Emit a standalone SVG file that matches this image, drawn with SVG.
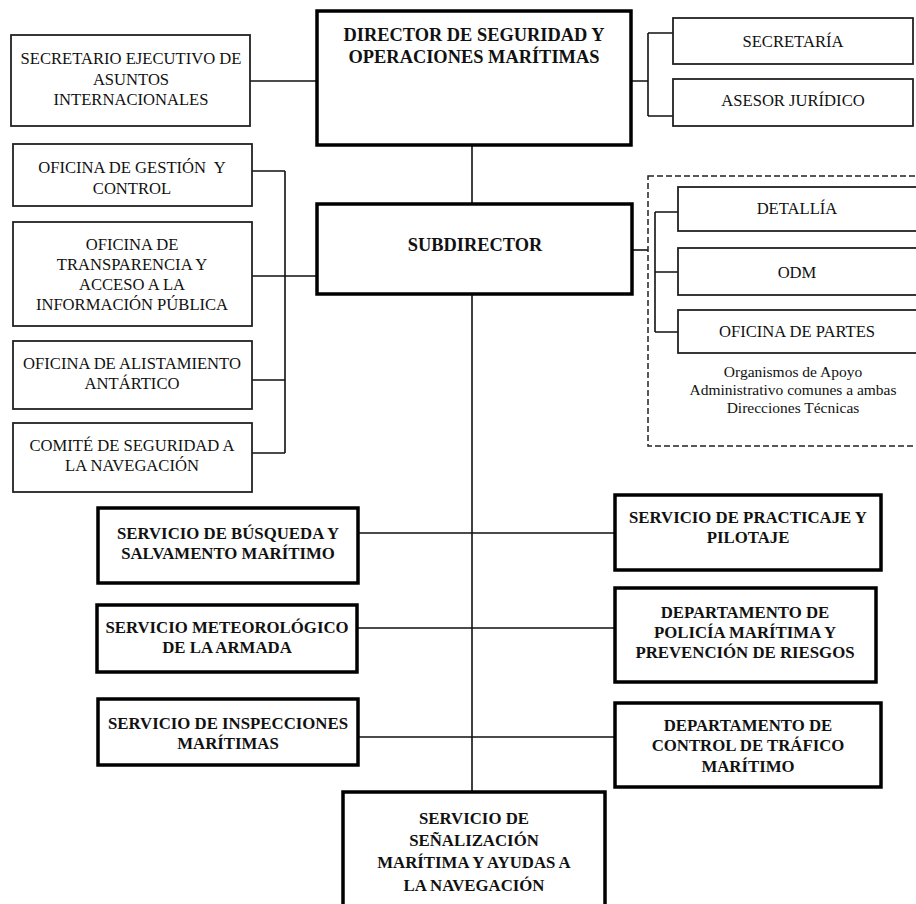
<svg xmlns="http://www.w3.org/2000/svg" width="916" height="904" viewBox="0 0 916 904">
<style>
  .thin{fill:#fff;stroke:#222;stroke-width:1.8}
  .thick{fill:#fff;stroke:#000;stroke-width:3.5}
  .t{font-family:"Liberation Serif","Times New Roman",serif;font-size:16.6px;fill:#111;text-anchor:middle}
  .b{font-family:"Liberation Serif","Times New Roman",serif;font-size:16.8px;font-weight:bold;fill:#111;text-anchor:middle}
  .bb{font-family:"Liberation Serif","Times New Roman",serif;font-size:18.4px;font-weight:bold;fill:#111;text-anchor:middle}
  .s{font-family:"Liberation Serif","Times New Roman",serif;font-size:15.5px;fill:#111;text-anchor:middle}
  .c{fill:none;stroke:#111;stroke-width:1.6}
</style>
<rect width="916" height="904" fill="#fff"/>
<g id="connectors">
  <path class="c" d="M250,81 H317"/>
  <path class="c" d="M631,81 H648 M648,33 V116 M648,33 H673 M648,116 H673"/>
  <path class="c" d="M472,145 V204"/>
  <path class="c" d="M472,294 V792"/>
  <path class="c" d="M252,171 H285 M285,171 V453 M252,276 H317 M252,380 H285 M252,453 H285"/>
  <path class="c" d="M632,250 H648"/>
  <path class="c" d="M655,212 V332 M655,212 H678 M655,272 H678 M655,332 H678"/>
  <path class="c" d="M358,533 H615 M357,628 H615 M358,737 H615"/>
</g>
<g id="apoyo-group">
  <rect x="648" y="176" width="290" height="270" fill="none" stroke="#222" stroke-width="1.5" stroke-dasharray="6,3"/>
  <text class="s" x="793" y="377">Organismos de Apoyo</text>
  <text class="s" x="793" y="395">Administrativo comunes a ambas</text>
  <text class="s" x="793" y="413">Direcciones Técnicas</text>
</g>
<g id="secretario">
  <rect class="thin" x="11" y="35" width="239" height="91"/>
  <text class="t" x="131" y="64">SECRETARIO EJECUTIVO DE</text>
  <text class="t" x="131" y="85">ASUNTOS</text>
  <text class="t" x="131" y="105">INTERNACIONALES</text>
</g>
<g id="director">
  <rect class="thick" x="317" y="11" width="314" height="134"/>
  <text class="bb" x="474" y="41">DIRECTOR DE SEGURIDAD Y</text>
  <text class="bb" x="474" y="63">OPERACIONES MARÍTIMAS</text>
</g>
<g id="secretaria">
  <rect class="thin" x="673" y="18" width="240" height="46"/>
  <text class="t" x="793" y="47">SECRETARÍA</text>
</g>
<g id="asesor">
  <rect class="thin" x="673" y="79" width="240" height="47"/>
  <text class="t" x="793" y="106">ASESOR JURÍDICO</text>
</g>
<g id="gestion">
  <rect class="thin" x="13" y="144" width="239" height="62"/>
  <text class="t" x="132" y="172.5" xml:space="preserve">OFICINA DE GESTIÓN  Y</text>
  <text class="t" x="132" y="193.5">CONTROL</text>
</g>
<g id="transparencia">
  <rect class="thin" x="13" y="222" width="239" height="104"/>
  <text class="t" x="132" y="249.5">OFICINA DE</text>
  <text class="t" x="132" y="269.5">TRANSPARENCIA Y</text>
  <text class="t" x="132" y="289.5">ACCESO A LA</text>
  <text class="t" x="132" y="309.5">INFORMACIÓN PÚBLICA</text>
</g>
<g id="alistamiento">
  <rect class="thin" x="13" y="341" width="239" height="68"/>
  <text class="t" x="132" y="368.5">OFICINA DE ALISTAMIENTO</text>
  <text class="t" x="132" y="388.5">ANTÁRTICO</text>
</g>
<g id="comite">
  <rect class="thin" x="13" y="423" width="239" height="69"/>
  <text class="t" x="132" y="450.5">COMITÉ DE SEGURIDAD A</text>
  <text class="t" x="132" y="470.5">LA NAVEGACIÓN</text>
</g>
<g id="subdirector">
  <rect class="thick" x="317" y="204" width="315" height="90"/>
  <text class="bb" x="475" y="251">SUBDIRECTOR</text>
</g>
<g id="detallia">
  <rect class="thin" x="678" y="187" width="250" height="44"/>
  <text class="t" x="797" y="213.5">DETALLÍA</text>
</g>
<g id="odm">
  <rect class="thin" x="678" y="248" width="250" height="47"/>
  <text class="t" x="797" y="277.5">ODM</text>
</g>
<g id="partes">
  <rect class="thin" x="678" y="310" width="250" height="43"/>
  <text class="t" x="797" y="336.5">OFICINA DE PARTES</text>
</g>
<g id="busqueda">
  <rect class="thick" x="98" y="508" width="260" height="75"/>
  <text class="b" x="228" y="539">SERVICIO DE BÚSQUEDA Y</text>
  <text class="b" x="228" y="559">SALVAMENTO MARÍTIMO</text>
</g>
<g id="meteorologico">
  <rect class="thick" x="97" y="605" width="260" height="67"/>
  <text class="b" x="227" y="633">SERVICIO METEOROLÓGICO</text>
  <text class="b" x="227" y="653">DE LA ARMADA</text>
</g>
<g id="inspecciones">
  <rect class="thick" x="98" y="699" width="260" height="66"/>
  <text class="b" x="228" y="729">SERVICIO DE INSPECCIONES</text>
  <text class="b" x="228" y="749">MARÍTIMAS</text>
</g>
<g id="practicaje">
  <rect class="thick" x="615" y="495" width="266" height="75"/>
  <text class="b" x="748" y="523">SERVICIO DE PRACTICAJE Y</text>
  <text class="b" x="748" y="543">PILOTAJE</text>
</g>
<g id="policia">
  <rect class="thick" x="615" y="588" width="261" height="94"/>
  <text class="b" x="745" y="618">DEPARTAMENTO DE</text>
  <text class="b" x="745" y="638">POLICÍA MARÍTIMA Y</text>
  <text class="b" x="745" y="658">PREVENCIÓN DE RIESGOS</text>
</g>
<g id="trafico">
  <rect class="thick" x="615" y="703" width="266" height="84"/>
  <text class="b" x="748" y="731">DEPARTAMENTO DE</text>
  <text class="b" x="748" y="751">CONTROL DE TRÁFICO</text>
  <text class="b" x="748" y="772">MARÍTIMO</text>
</g>
<g id="senalizacion">
  <rect class="thick" x="343" y="792" width="262" height="120"/>
  <text class="b" x="474" y="824">SERVICIO DE</text>
  <text class="b" x="474" y="846">SEÑALIZACIÓN</text>
  <text class="b" x="474" y="868">MARÍTIMA Y AYUDAS A</text>
  <text class="b" x="474" y="891">LA NAVEGACIÓN</text>
</g>
</svg>
